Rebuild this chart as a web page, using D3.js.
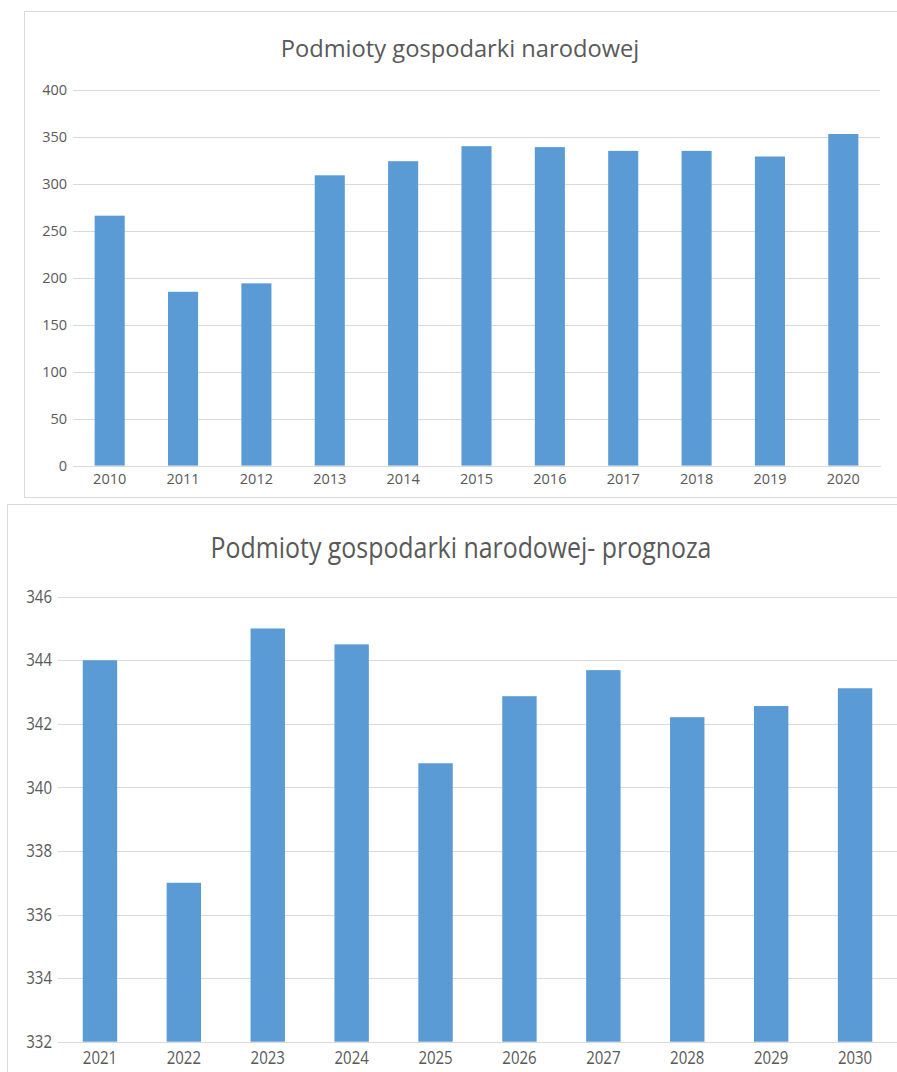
<!DOCTYPE html>
<html>
<head>
<meta charset="utf-8">
<script src="https://cdn.jsdelivr.net/npm/d3@7"></script>
<style>
  body { margin: 0; background: #fff; }
  svg { display: block; }
  text { font-family: "Open Sans", "Noto Sans", sans-serif; fill: #595959; }
</style>
</head>
<body>
<svg id="chart" width="897" height="1072"></svg>
<script>
// Historical data 2010–2020
const yearsHistory = ["2010", "2011", "2012", "2013", "2014", "2015", "2016", "2017", "2018", "2019", "2020"];
const valuesHistory = [266, 185, 194, 309, 324, 340, 339, 335, 335, 329, 353];
const ticksHistory = [0, 50, 100, 150, 200, 250, 300, 350, 400];
const titleHistory = "Podmioty gospodarki narodowej";

// Forecast 2021–2030
const yearsForecast = ["2021", "2022", "2023", "2024", "2025", "2026", "2027", "2028", "2029", "2030"];
const valuesForecast = [344.0, 337.0, 345.0, 344.5, 340.76, 342.87, 343.69, 342.21, 342.56, 343.12];
const ticksForecast = [332, 334, 336, 338, 340, 342, 344, 346];
const titleForecast = "Podmioty gospodarki narodowej- prognoza";

const BAR = "#5B9BD5";
const GRID = "#d9d9d9";

const svg = d3.select("#chart");

function panel(o) {
  // chart area frame
  svg.append("rect")
    .attr("x", o.frame[0] + 0.5).attr("y", o.frame[1] + 0.5)
    .attr("width", o.frame[2]).attr("height", o.frame[3])
    .attr("fill", "#fff").attr("stroke", GRID).attr("stroke-width", 1);

  // title
  svg.append("text")
    .attr("transform", `translate(${o.titlePos[0]},${o.titlePos[1]}) scale(1,${o.sy})`)
    .attr("text-anchor", "middle")
    .style("font-size", o.titleSize + "px")
    .text(o.title);

  const x = d3.scaleBand()
    .domain(o.cats)
    .range([o.left, o.right])
    .paddingInner(0.59)
    .paddingOuter(0.295);

  const y = d3.scaleLinear()
    .domain(o.domain)
    .range([o.bottom, o.top]);

  // value axis with horizontal gridlines
  const yAxis = svg.append("g")
    .attr("transform", `translate(${o.left},0)`)
    .call(d3.axisLeft(y).tickValues(o.ticks).tickSize(-(o.right - o.left)).tickPadding(6));
  yAxis.select(".domain").remove();
  yAxis.selectAll(".tick line")
    .attr("stroke", GRID).attr("stroke-width", 1)
    .attr("shape-rendering", "crispEdges");
  yAxis.selectAll(".tick text")
    .attr("fill", "#595959")
    .style("font-size", o.tickSize + "px")
    .style("font-family", '"Open Sans", "Noto Sans", sans-serif')
    .attr("transform", `scale(1,${o.sy})`);

  // bars
  svg.append("g").selectAll("rect")
    .data(o.values)
    .join("rect")
    .attr("x", (d, i) => x(o.cats[i]))
    .attr("y", d => y(d))
    .attr("width", x.bandwidth())
    .attr("height", d => y(o.domain[0]) - y(d))
    .attr("fill", BAR);

  // category axis
  const xAxis = svg.append("g")
    .attr("transform", `translate(0,${o.bottom})`)
    .call(d3.axisBottom(x).tickSize(0));
  xAxis.select(".domain")
    .attr("stroke", GRID).attr("stroke-width", 1)
    .attr("shape-rendering", "crispEdges");
  xAxis.selectAll(".tick text")
    .attr("fill", "#595959")
    .style("font-size", o.tickSize + "px")
    .style("font-family", '"Open Sans", "Noto Sans", sans-serif')
    .attr("dy", null)
    .attr("y", o.labelOffset / o.sy)
    .attr("transform", `scale(1,${o.sy})`);
}

panel({
  frame: [24, 11, 900, 486],
  title: titleHistory,
  titlePos: [460, 57],
  titleSize: 23.7,
  tickSize: 14.5,
  sy: 1,
  cats: yearsHistory,
  values: valuesHistory,
  ticks: ticksHistory,
  domain: [0, 400],
  left: 73, right: 880,
  top: 89.8, bottom: 465.6,
  labelOffset: 18.4
});

panel({
  frame: [7, 504, 900, 600],
  title: titleForecast,
  titlePos: [461, 558],
  titleSize: 24.9,
  tickSize: 15,
  sy: 1.17,
  cats: yearsForecast,
  values: valuesForecast,
  ticks: ticksForecast,
  domain: [332, 346],
  left: 58, right: 897,
  top: 596.7, bottom: 1041.7,
  labelOffset: 22.3
});
</script>
</body>
</html>
